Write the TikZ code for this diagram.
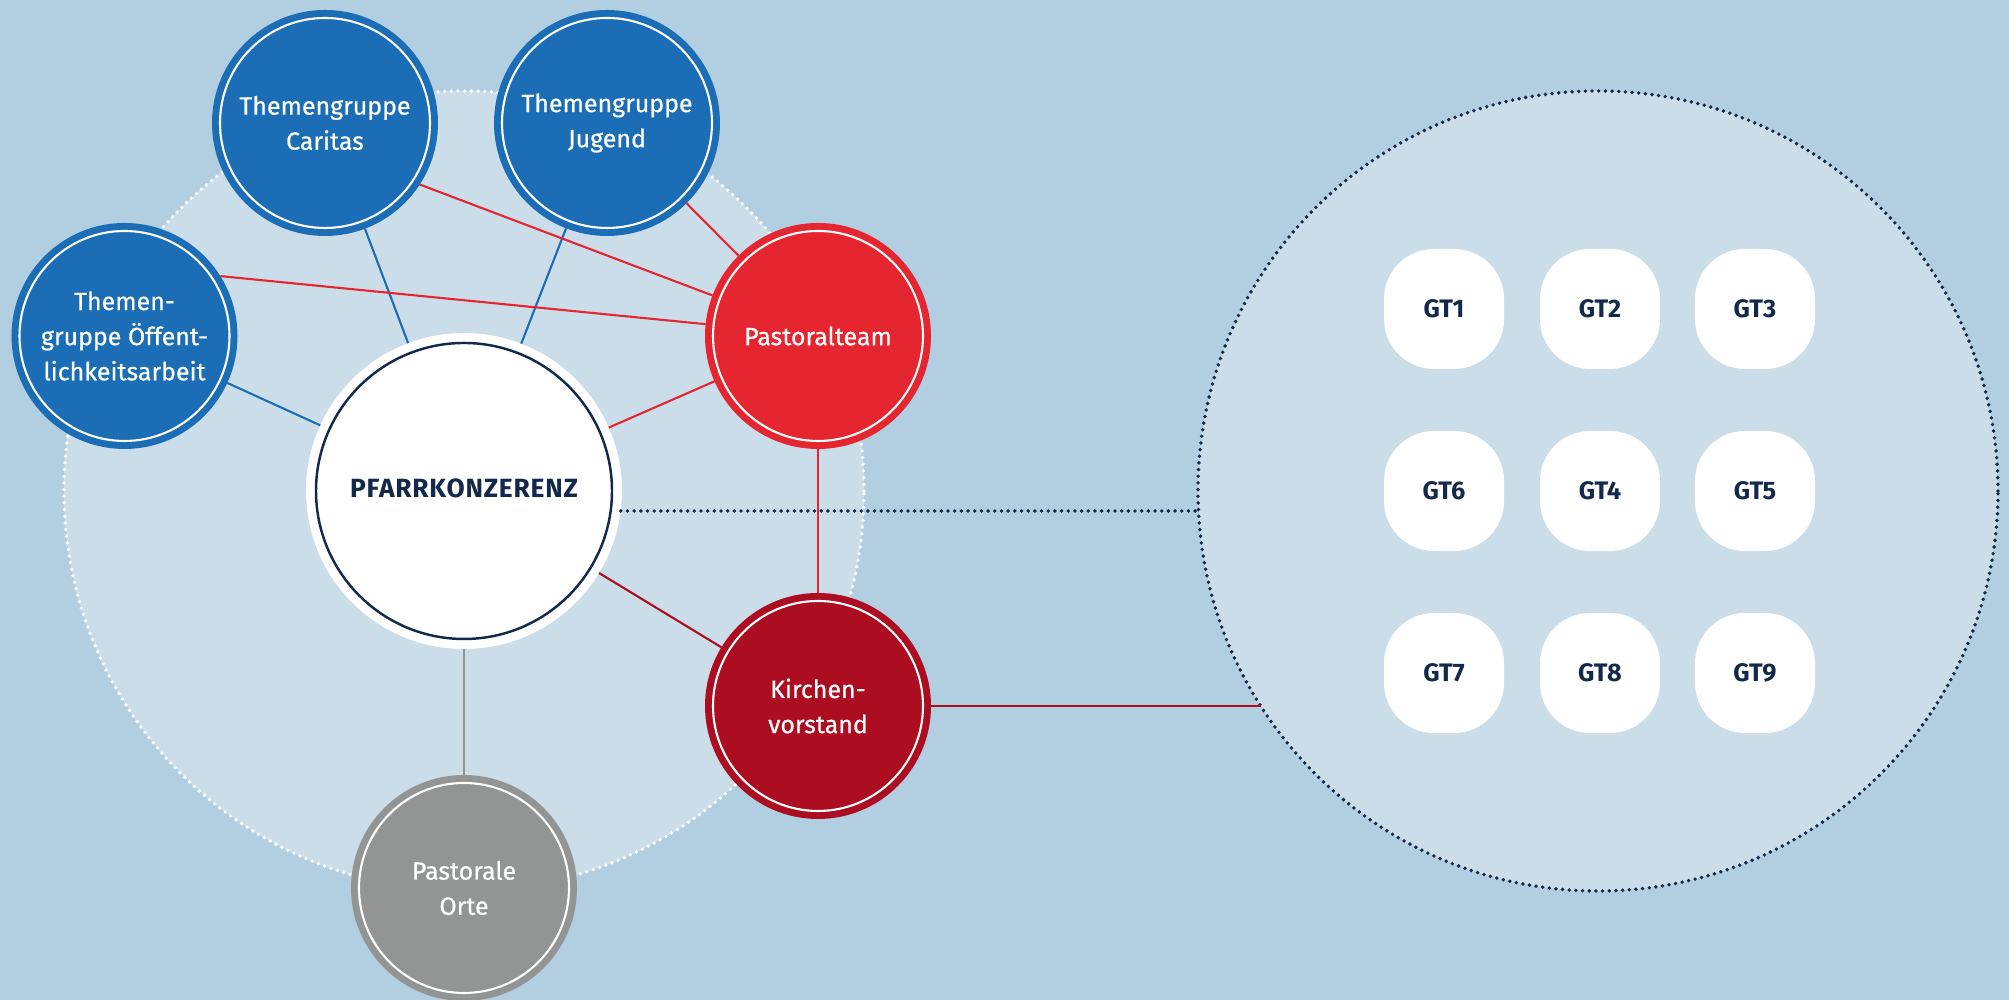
\documentclass[tikz,border=0pt]{standalone}
\usepackage{fontspec}
\setmainfont{Fira Sans}
\usepackage{tikz}
\usepackage{xcolor}

\definecolor{hgblau}{HTML}{B1CFE0}
\definecolor{kreisblau}{HTML}{CADDE9}
\definecolor{tgblau}{HTML}{1B6DB6}
\definecolor{ptrot}{HTML}{E52630}
\definecolor{kvrot}{HTML}{AD0D20}
\definecolor{ortgrau}{HTML}{939494}
\definecolor{navy}{HTML}{13294B}

\tikzset{
  gremium/.style={shape=circle, fill=#1, minimum size=2.26cm, inner sep=0pt, outer sep=0pt,
    text=white, align=center, font=\fontsize{7.1}{10}\selectfont\addfontfeatures{FakeBold=0.6},
    path picture={\draw[white, line width=0.6pt] (path picture bounding box.center) circle (1.05cm);}},
  gt/.style={shape=rectangle, fill=white, rounded corners=0.5cm, minimum size=1.2cm,
    inner sep=0pt, outer sep=0pt, text=navy, font=\fontsize{7.2}{9}\selectfont\bfseries},
  punkte/.style={line cap=round, dash pattern=on 0pt off 1.9pt, line width=1.1pt},
}

\begin{document}
\begin{tikzpicture}[
            line width = 0.6pt, % connector width
            outer sep = 0pt % edges end on the border
        ]

\useasboundingbox (0,0) rectangle (20.09,10);
\fill[hgblau] (0,0) rectangle (20.09,10);

% the two big circles
\node[shape=circle, fill=kreisblau, draw=white, punkte, minimum size=8cm] (Kreis) at (4.64,5.09) {};
\node[shape=circle, fill=kreisblau, draw=navy, punkte, minimum size=8cm] (GTKreis) at (15.98,5.09) {};
\coordinate (PKend) at (11.985,4.89);
\coordinate (KVend) at (12.607,2.94);

\node[shape=circle, fill=white, minimum size=3.16cm, inner sep=0pt, text=navy,
      font=\fontsize{7.5}{9}\selectfont\bfseries\addfontfeatures{LetterSpace=3},
      path picture={\draw[navy, line width=0.7pt] (path picture bounding box.center) circle (1.48cm);}]
      (PK) at (4.64,5.09) {\raisebox{0.5mm}{PFARRKONZERENZ}};

\node[gremium=tgblau] (Car) at (3.25,8.77) {Themengruppe\\Caritas};
\node[gremium=tgblau] (Jug) at (6.07,8.77) {Themengruppe\\Jugend};
\node[gremium=tgblau] (Oeff) at (1.245,6.64) {Themen-\\gruppe Öffent-\\lichkeitsarbeit};
\node[gremium=ptrot] (PT) at (8.18,6.64) {Pastoralteam};
\node[gremium=kvrot] (KV) at (8.18,2.94) {Kirchen-\\vorstand};
\node[gremium=ortgrau] (PO) at (4.64,1.12) {Pastorale\\Orte};

\node[gt] (GT1) at (14.44,6.91) {GT1};
\node[gt] (GT2) at (16.00,6.91) {GT2};
\node[gt] (GT3) at (17.55,6.91) {GT3};
\node[gt] (GT6) at (14.44,5.09) {GT6};
\node[gt] (GT4) at (16.00,5.09) {GT4};
\node[gt] (GT5) at (17.55,5.09) {GT5};
\node[gt] (GT7) at (14.44,3.27) {GT7};
\node[gt] (GT8) at (16.00,3.27) {GT8};
\node[gt] (GT9) at (17.55,3.27) {GT9};

 \path [draw=tgblau] (Car) edge (PK);
 \path [draw=tgblau] (Jug) edge (PK);
 \path [draw=tgblau] (Oeff) edge (PK);
 \path [draw=ptrot] (Oeff.32) edge (PT.174);
 \path [draw=ptrot] (Car.-33) edge (PT.159);
 \path [draw=ptrot] (Jug) edge (PT);
 \path [draw=ptrot] (PT) edge (PK);
 \path [draw=ptrot] (PT) edge (KV);
 \path [draw=kvrot] (PK) edge (KV);
 \path [draw=ortgrau] (PK) edge (PO);
 \path [draw=navy, punkte] (PK.-7.3 |- PKend) edge (PKend);
 \path [draw=kvrot] (KV) edge (KVend);
\end{tikzpicture}
\end{document}
